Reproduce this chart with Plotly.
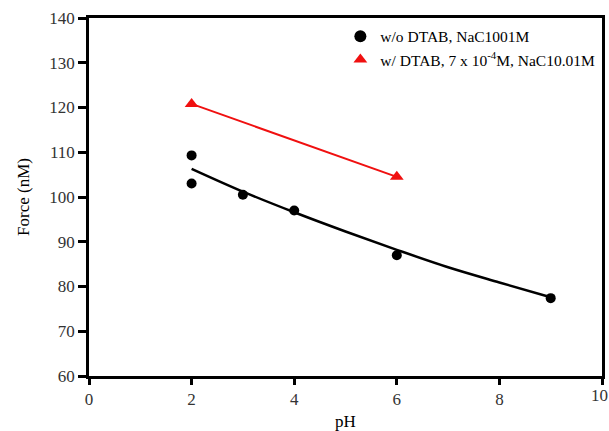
import plotly.graph_objects as go

# Data
ph_black = [2, 2, 3, 4, 6, 9]
force_black = [109.3, 103.0, 100.5, 97.0, 87.0, 77.4]

fit_ph = [2, 3, 4, 5, 6, 7, 8, 9]
fit_force = [106.3, 101.2, 96.6, 92.3, 88.2, 84.3, 80.9, 77.6]

ph_red = [2, 6]
force_red = [120.8, 104.5]

x_ticks = [0, 2, 4, 6, 8, 10]
y_ticks = [60, 70, 80, 90, 100, 110, 120, 130, 140]

name_black = "w/o DTAB, NaC1001M"
name_red = "w/ DTAB, 7 x 10<sup>-4</sup>M, NaC10.01M"

font_family = "Liberation Serif"
red = "#f01010"

fig = go.Figure()
fig.add_trace(go.Scatter(x=fit_ph, y=fit_force, mode="lines",
                         line=dict(color="black", width=2.5, shape="spline"),
                         showlegend=False, hoverinfo="skip"))
fig.add_trace(go.Scatter(x=ph_red, y=force_red, mode="lines",
                         line=dict(color=red, width=2),
                         showlegend=False, hoverinfo="skip"))
fig.add_trace(go.Scatter(x=ph_black, y=force_black, mode="markers",
                         marker=dict(color="black", size=10, symbol="circle"),
                         name=name_black))
fig.add_trace(go.Scatter(x=ph_red, y=force_red, mode="markers",
                         marker=dict(color=red, size=12, symbol="triangle-up"),
                         name=name_red))

# last x tick label sits at the page edge; draw it as an annotation so it is kept
fig.add_annotation(x=x_ticks[-1], xref="x", y=0, yref="paper", text=str(x_ticks[-1]),
                   showarrow=False, yanchor="top", yshift=-8, xshift=-3,
                   font=dict(size=17, color="#333", family=font_family))

fig.update_layout(
    width=609, height=431,
    margin=dict(l=89, r=7, t=18, b=55),
    plot_bgcolor="white", paper_bgcolor="white",
    font=dict(family=font_family, color="black", size=17),
    legend=dict(x=0.49, y=0.995, xanchor="left", yanchor="top",
                bgcolor="rgba(0,0,0,0)", font=dict(size=15.5, family=font_family),
                itemsizing="constant", tracegroupgap=0, itemwidth=30),
    xaxis=dict(range=[0, 10], tickvals=x_ticks,
               showgrid=False, zeroline=False, automargin=False,
               showline=True, linecolor="black", linewidth=2.5, mirror=True,
               ticks="outside", ticklen=6, tickwidth=2.5, tickcolor="black",
               tickfont=dict(size=17, color="#333", family=font_family),
               title=dict(text="pH", font=dict(size=17), standoff=12)),
    yaxis=dict(range=[60, 140], tickvals=y_ticks,
               showgrid=False, zeroline=False, automargin=False,
               showline=True, linecolor="black", linewidth=2.5, mirror=True,
               ticks="outside", ticklen=8, tickwidth=2.5, tickcolor="black",
               tickfont=dict(size=17, color="#333", family=font_family),
               title=dict(text="Force (nM)", font=dict(size=17), standoff=16)),
)

fig.write_html("out.html")
